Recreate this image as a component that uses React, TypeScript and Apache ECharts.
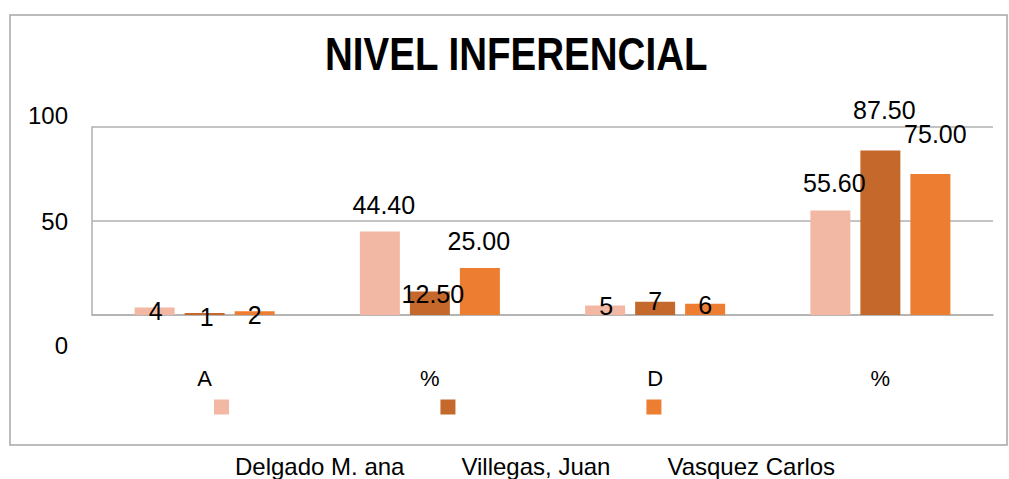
import React, { useEffect, useRef } from "react";
import * as echarts from "echarts";

const categories = ["A", "%", "D", "%"];
const seriesNames = ["Delgado M. ana", "Villegas, Juan", "Vasquez Carlos"];
const delgado = [4, 44.4, 5, 55.6];
const villegas = [1, 12.5, 7, 87.5];
const vasquez = [2, 25, 6, 75];
const yTicks = [0, 50, 100];
const titleText = "NIVEL INFERENCIAL";

// label nudges (x, y) in px, Excel-like placement of the data labels
const offsDelgado = [[1, 16], [4, -14], [1, 13], [4, -15]];
const offsVillegas = [[2, 16], [3, 15], [0, 12], [4, -28]];
const offsVasquez = [[0, 16], [-1, -15], [0, 14], [5, -28]];

const colors = ["#F3B8A3", "#C4682C", "#EC7D31"];
const FONT = "'Liberation Sans', Arial, sans-serif";

export default function App() {
  const ref = useRef<HTMLDivElement>(null);
  useEffect(() => {
    if (!ref.current) return;
    const chart = echarts.init(ref.current, null, { renderer: "svg" });
    const mk = (vals: number[], offs: number[][]) =>
      vals.map((v, i) => ({ value: v, label: { offset: offs[i] } }));
    const fmt = (p: any) =>
      p.dataIndex % 2 === 1 ? Number(p.value).toFixed(2) : String(p.value);
    const seriesData = [
      mk(delgado, offsDelgado),
      mk(villegas, offsVillegas),
      mk(vasquez, offsVasquez),
    ];
    chart.setOption({
      animation: false,
      color: colors,
      graphic: [
        {
          type: "rect",
          z: -10,
          shape: { x: 10, y: 15, width: 997, height: 430 },
          style: { fill: "none", stroke: "#a6a6a6", lineWidth: 1.5 },
        },
        {
          type: "text",
          x: 325,
          y: 30,
          scaleX: 0.82,
          style: {
            text: titleText,
            fontFamily: FONT,
            fontWeight: "bold",
            fontSize: 47,
            lineHeight: 47,
            fill: "#000",
            textVerticalAlign: "top",
          },
        },
      ],
      legend: {
        data: seriesNames,
        left: 214,
        top: 336,
        itemWidth: 15,
        itemHeight: 15,
        itemGap: 36,
        padding: 0,
        icon: "rect",
        formatter: "{t|{name}}",
        textStyle: {
          fontFamily: FONT,
          fontSize: 24,
          color: "#000",
          rich: {
            t: {
              fontFamily: FONT,
              fontSize: 24,
              lineHeight: 24,
              color: "#000",
              padding: [118, 0, 0, 1],
            },
          },
        },
      },
      grid: { left: 92, right: 16, top: 127, bottom: 164, containLabel: false },
      xAxis: {
        type: "category",
        data: categories,
        axisTick: { show: false },
        axisLine: { show: true, lineStyle: { color: "#b0b0b0", width: 1.5 } },
        axisLabel: {
          margin: 52,
          fontFamily: FONT,
          fontSize: 22,
          lineHeight: 22,
          color: "#000",
        },
      },
      yAxis: {
        type: "value",
        min: yTicks[0],
        max: yTicks[yTicks.length - 1],
        interval: yTicks[1] - yTicks[0],
        axisLine: { show: true, lineStyle: { color: "#b0b0b0", width: 1.5 } },
        axisTick: { show: false },
        splitLine: { lineStyle: { color: "#b0b0b0", width: 1.5 } },
        axisLabel: {
          margin: 24,
          color: "#000",
          fontFamily: FONT,
          fontSize: 24,
          formatter: (v: number) =>
            `{${v === 0 ? "z" : v === 100 ? "h" : "m"}|${v}}`,
          rich: {
            z: { fontFamily: FONT, fontSize: 24, lineHeight: 24, color: "#000", padding: [60, 0, 0, 0] },
            h: { fontFamily: FONT, fontSize: 24, lineHeight: 24, color: "#000", padding: [0, 0, 24, 0] },
            m: { fontFamily: FONT, fontSize: 24, lineHeight: 24, color: "#000" },
          },
        },
      },
      series: seriesNames.map((name, k) => ({
        name,
        type: "bar",
        barWidth: 40,
        barGap: "25%",
        data: seriesData[k],
        label: {
          show: true,
          position: "top",
          distance: 0,
          formatter: fmt,
          fontFamily: FONT,
          fontSize: 25,
          lineHeight: 25,
          color: "#000",
        },
      })),
    });
    return () => chart.dispose();
  }, []);
  return (
    <div
      ref={ref}
      style={{ position: "absolute", left: 0, top: 0, width: 1009, height: 479 }}
    />
  );
}
